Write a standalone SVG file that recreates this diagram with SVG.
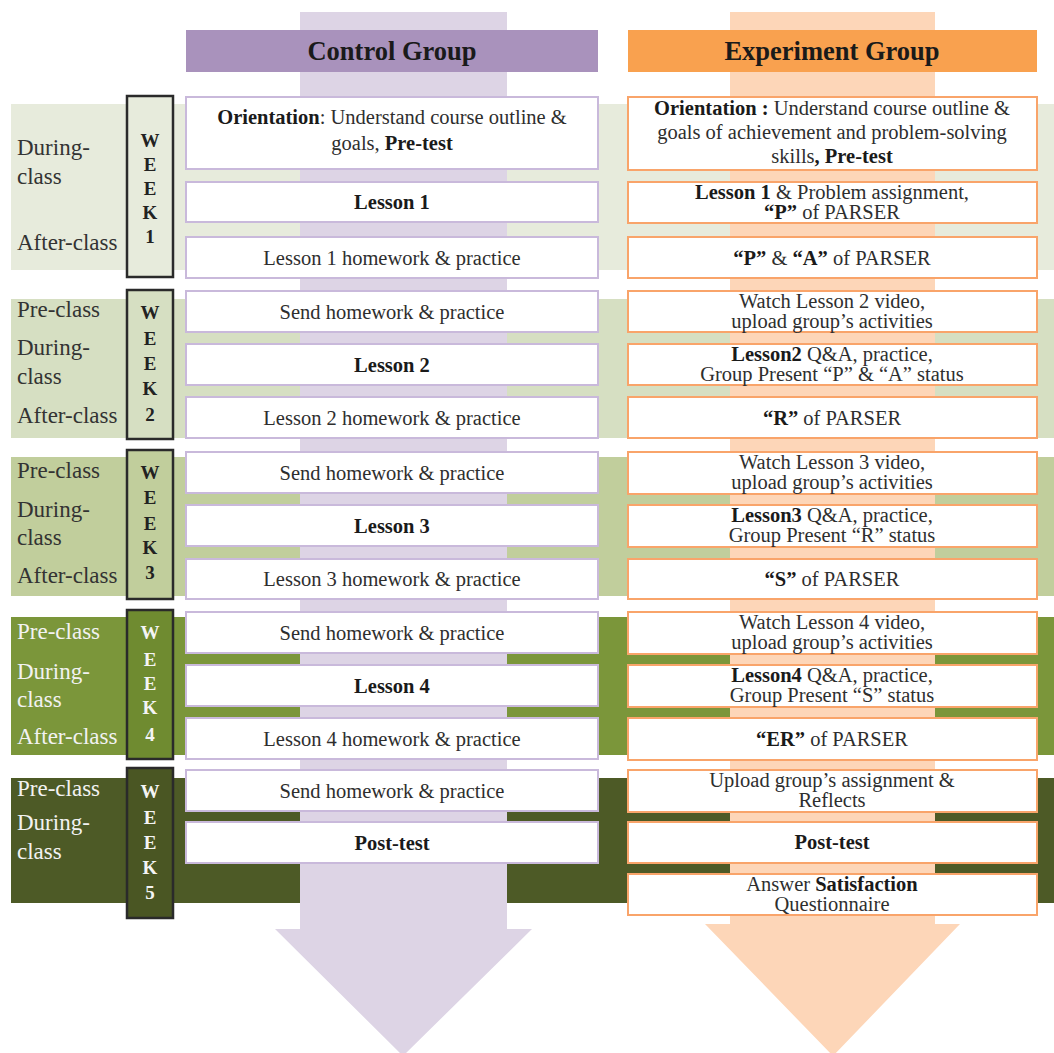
<svg xmlns="http://www.w3.org/2000/svg" width="1054" height="1053" viewBox="0 0 1054 1053">
<style>
.t{font-family:"Liberation Serif","Times New Roman",serif;font-size:20.5px;fill:#2e2e2e;text-anchor:middle}
.b{font-weight:bold;fill:#1a1a1a}
.hd{font-family:"Liberation Serif","Times New Roman",serif;font-size:26.5px;font-weight:bold;fill:#1a1a1a;text-anchor:middle}
.lb{font-family:"Liberation Serif","Times New Roman",serif;font-size:23px;fill:#333}
.lw{fill:#f2f2f2}
.wk{font-family:"Liberation Serif","Times New Roman",serif;font-size:19px;font-weight:bold;text-anchor:middle;fill:#222}
.wkw{fill:#f4f4f4}
.cb{fill:#fff;stroke:#c9b9db;stroke-width:2}
.eb{fill:#fff;stroke:#f9a46a;stroke-width:2}
.wb{stroke:#2a2a2a;stroke-width:2.5}
</style>
<g id="bands">
<rect x="11" y="104" width="1043" height="166" fill="#e7ebdc"/>
<rect x="11" y="299" width="1043" height="139" fill="#d6dfc2"/>
<rect x="11" y="457" width="1043" height="139" fill="#c1ce9c"/>
<rect x="11" y="617" width="1043" height="138" fill="#7b963a"/>
<rect x="11" y="778" width="1043" height="125" fill="#4d5a26"/>
</g>
<g id="connectors">
<polygon points="300,12 507,12 507,929 532,929 403,1056 275,929 300,929" fill="#ddd4e5"/>
<polygon points="730,12 935,12 935,924 960,924 833,1056 705,924 730,924" fill="#fdd6b8"/>
</g>
<g id="header-control"><rect x="186" y="30" width="412" height="42" fill="#a992bc"/><text class="hd" x="392" y="60">Control Group</text></g>
<g id="header-experiment"><rect x="628" y="30" width="409" height="42" fill="#f9a14f"/><text class="hd" x="832" y="60">Experiment Group</text></g>

<g id="labels-week1"><text class="lb" x="17" y="155">During-</text><text class="lb" x="17" y="184">class</text><text class="lb" x="17" y="250">After-class</text></g>
<g id="labels-week2"><text class="lb" x="17" y="317">Pre-class</text><text class="lb" x="17" y="355">During-</text><text class="lb" x="17" y="384">class</text><text class="lb" x="17" y="423">After-class</text></g>
<g id="labels-week3"><text class="lb" x="17" y="478">Pre-class</text><text class="lb" x="17" y="517">During-</text><text class="lb" x="17" y="545">class</text><text class="lb" x="17" y="583">After-class</text></g>
<g id="labels-week4"><text class="lb lw" x="17" y="639">Pre-class</text><text class="lb lw" x="17" y="679">During-</text><text class="lb lw" x="17" y="707">class</text><text class="lb lw" x="17" y="744">After-class</text></g>
<g id="labels-week5"><text class="lb lw" x="17" y="796">Pre-class</text><text class="lb lw" x="17" y="830">During-</text><text class="lb lw" x="17" y="859">class</text></g>

<g id="week1"><rect class="wb" x="127" y="96" width="46" height="181" fill="#e7ebdc"/><text class="wk" x="150" y="147">W</text><text class="wk" x="150" y="171">E</text><text class="wk" x="150" y="195">E</text><text class="wk" x="150" y="219">K</text><text class="wk" x="150" y="243">1</text></g>
<g id="week2"><rect class="wb" x="127" y="290" width="46" height="149" fill="#d6dfc2"/><text class="wk" x="150" y="319">W</text><text class="wk" x="150" y="345">E</text><text class="wk" x="150" y="370">E</text><text class="wk" x="150" y="395">K</text><text class="wk" x="150" y="421">2</text></g>
<g id="week3"><rect class="wb" x="127" y="450" width="46" height="149" fill="#c1ce9c"/><text class="wk" x="150" y="479">W</text><text class="wk" x="150" y="504">E</text><text class="wk" x="150" y="530">E</text><text class="wk" x="150" y="554">K</text><text class="wk" x="150" y="579">3</text></g>
<g id="week4"><rect class="wb" x="127" y="610" width="46" height="149" fill="#6f8b30"/><text class="wk wkw" x="150" y="639">W</text><text class="wk wkw" x="150" y="666">E</text><text class="wk wkw" x="150" y="690">E</text><text class="wk wkw" x="150" y="714">K</text><text class="wk wkw" x="150" y="741">4</text></g>
<g id="week5"><rect class="wb" x="127" y="768" width="46" height="150" fill="#4a5623"/><text class="wk wkw" x="150" y="798">W</text><text class="wk wkw" x="150" y="824">E</text><text class="wk wkw" x="150" y="849">E</text><text class="wk wkw" x="150" y="874">K</text><text class="wk wkw" x="150" y="899">5</text></g>

<g id="c1a"><rect class="cb" x="186" y="97" width="412" height="72"/><text class="t" x="392" y="124"><tspan class="b">Orientation</tspan>: Understand course outline &amp;</text><text class="t" x="392" y="150">goals, <tspan class="b">Pre-test</tspan></text></g>
<g id="c1b"><rect class="cb" x="186" y="182" width="412" height="40"/><text class="t b" x="392" y="209">Lesson 1</text></g>
<g id="c1c"><rect class="cb" x="186" y="237" width="412" height="41"/><text class="t" x="392" y="265">Lesson 1 homework &amp; practice</text></g>
<g id="c2a"><rect class="cb" x="186" y="291" width="412" height="41"/><text class="t" x="392" y="319">Send homework &amp; practice</text></g>
<g id="c2b"><rect class="cb" x="186" y="344" width="412" height="41"/><text class="t b" x="392" y="372">Lesson 2</text></g>
<g id="c2c"><rect class="cb" x="186" y="397" width="412" height="41"/><text class="t" x="392" y="425">Lesson 2 homework &amp; practice</text></g>
<g id="c3a"><rect class="cb" x="186" y="452" width="412" height="41"/><text class="t" x="392" y="480">Send homework &amp; practice</text></g>
<g id="c3b"><rect class="cb" x="186" y="505" width="412" height="41"/><text class="t b" x="392" y="533">Lesson 3</text></g>
<g id="c3c"><rect class="cb" x="186" y="559" width="412" height="40"/><text class="t" x="392" y="586">Lesson 3 homework &amp; practice</text></g>
<g id="c4a"><rect class="cb" x="186" y="612" width="412" height="41"/><text class="t" x="392" y="640">Send homework &amp; practice</text></g>
<g id="c4b"><rect class="cb" x="186" y="665" width="412" height="41"/><text class="t b" x="392" y="693">Lesson 4</text></g>
<g id="c4c"><rect class="cb" x="186" y="718" width="412" height="41"/><text class="t" x="392" y="746">Lesson 4 homework &amp; practice</text></g>
<g id="c5a"><rect class="cb" x="186" y="770" width="412" height="41"/><text class="t" x="392" y="798">Send homework &amp; practice</text></g>
<g id="c5b"><rect class="cb" x="186" y="822" width="412" height="41"/><text class="t b" x="392" y="850">Post-test</text></g>

<g id="e1a"><rect class="eb" x="628" y="97" width="409" height="73"/><text class="t" x="832" y="115"><tspan class="b">Orientation :</tspan> Understand course outline &amp;</text><text class="t" x="832" y="139">goals of achievement and problem-solving</text><text class="t" x="832" y="163">skills<tspan class="b">, Pre-test</tspan></text></g>
<g id="e1b"><rect class="eb" x="628" y="182" width="409" height="41"/><text class="t" x="832" y="199"><tspan class="b">Lesson 1</tspan> &amp; Problem assignment,</text><text class="t" x="832" y="219"><tspan class="b">“P”</tspan> of PARSER</text></g>
<g id="e1c"><rect class="eb" x="628" y="237" width="409" height="41"/><text class="t" x="832" y="265"><tspan class="b">“P”</tspan> &amp; <tspan class="b">“A”</tspan> of PARSER</text></g>
<g id="e2a"><rect class="eb" x="628" y="291" width="409" height="41"/><text class="t" x="832" y="308">Watch Lesson 2 video,</text><text class="t" x="832" y="328">upload group’s activities</text></g>
<g id="e2b"><rect class="eb" x="628" y="344" width="409" height="41"/><text class="t" x="832" y="361"><tspan class="b">Lesson2</tspan> Q&amp;A, practice,</text><text class="t" x="832" y="381">Group Present “P” &amp; “A” status</text></g>
<g id="e2c"><rect class="eb" x="628" y="397" width="409" height="41"/><text class="t" x="832" y="425"><tspan class="b">“R”</tspan> of PARSER</text></g>
<g id="e3a"><rect class="eb" x="628" y="452" width="409" height="42"/><text class="t" x="832" y="469">Watch Lesson 3 video,</text><text class="t" x="832" y="489">upload group’s activities</text></g>
<g id="e3b"><rect class="eb" x="628" y="505" width="409" height="42"/><text class="t" x="832" y="522"><tspan class="b">Lesson3</tspan> Q&amp;A, practice,</text><text class="t" x="832" y="542">Group Present “R” status</text></g>
<g id="e3c"><rect class="eb" x="628" y="559" width="409" height="40"/><text class="t" x="832" y="586"><tspan class="b">“S”</tspan> of PARSER</text></g>
<g id="e4a"><rect class="eb" x="628" y="612" width="409" height="42"/><text class="t" x="832" y="629">Watch Lesson 4 video,</text><text class="t" x="832" y="649">upload group’s activities</text></g>
<g id="e4b"><rect class="eb" x="628" y="665" width="409" height="42"/><text class="t" x="832" y="682"><tspan class="b">Lesson4</tspan> Q&amp;A, practice,</text><text class="t" x="832" y="702">Group Present “S” status</text></g>
<g id="e4c"><rect class="eb" x="628" y="718" width="409" height="42"/><text class="t" x="832" y="746"><tspan class="b">“ER”</tspan> of PARSER</text></g>
<g id="e5a"><rect class="eb" x="628" y="770" width="409" height="42"/><text class="t" x="832" y="787">Upload group’s assignment &amp;</text><text class="t" x="832" y="807">Reflects</text></g>
<g id="e5b"><rect class="eb" x="628" y="822" width="409" height="41"/><text class="t b" x="832" y="849">Post-test</text></g>
<g id="e5c"><rect class="eb" x="628" y="874" width="409" height="41"/><text class="t" x="832" y="891">Answer <tspan class="b">Satisfaction</tspan></text><text class="t" x="832" y="911">Questionnaire</text></g>
</svg>
